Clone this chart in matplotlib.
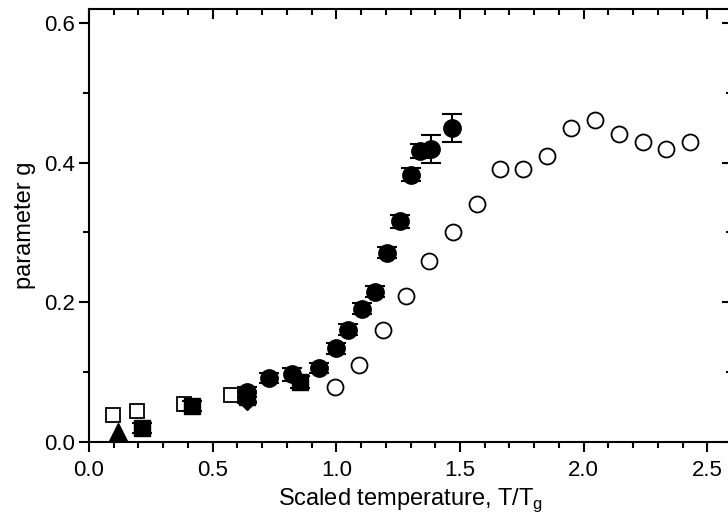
import matplotlib
matplotlib.use("Agg")
import matplotlib.pyplot as plt
from matplotlib.ticker import MultipleLocator

plt.rcParams['font.family'] = ['Liberation Sans', 'DejaVu Sans']

# open circles, no error bars
oc_x = [0.996, 1.093, 1.19, 1.28, 1.373, 1.471, 1.567, 1.661, 1.755, 1.853, 1.95, 2.045, 2.142, 2.239, 2.332, 2.43]
oc_y = [0.079, 0.110, 0.160, 0.209, 0.259, 0.301, 0.341, 0.391, 0.391, 0.410, 0.450, 0.461, 0.441, 0.430, 0.420, 0.430]

# filled circles with error bars
fc_x = [0.638, 0.729, 0.82, 0.931, 0.999, 1.047, 1.104, 1.158, 1.205, 1.256, 1.30, 1.34, 1.383, 1.468]
fc_y = [0.072, 0.092, 0.097, 0.106, 0.134, 0.161, 0.191, 0.215, 0.271, 0.316, 0.383, 0.416, 0.420, 0.449]
fc_e = [0.007, 0.007, 0.009, 0.007, 0.008, 0.008, 0.008, 0.008, 0.008, 0.009, 0.009, 0.01, 0.02, 0.02]

# filled squares with error bars
fs_x = [0.216, 0.418, 0.638, 0.854]
fs_y = [0.020, 0.051, 0.064, 0.086]
fs_e = [0.007, 0.007, 0.008, 0.008]

# open squares
os_x = [0.096, 0.193, 0.386, 0.574]
os_y = [0.039, 0.045, 0.055, 0.068]

# filled triangle, filled diamond
tri_x = [0.119]
tri_y = [0.014]
dia_x = [0.638]
dia_y = [0.058]

fig = plt.figure(figsize=(7.28, 5.17), dpi=100)
ax = fig.add_axes([89/728, 75/517, 643/728, 433/517])

ax.plot(oc_x, oc_y, 'o', ms=11.5, mfc='white', mec='black', mew=1.3, zorder=3)
ax.plot(os_x, os_y, 's', ms=10.5, mfc='white', mec='black', mew=1.3, zorder=3)
ax.plot(tri_x, tri_y, '^', ms=13, color='black', zorder=4)
ax.plot(dia_x, dia_y, 'D', ms=9, color='black', zorder=4)
ax.errorbar(fs_x, fs_y, yerr=fs_e, fmt='s', ms=11, color='black',
            ecolor='black', elinewidth=1.5, capsize=7.5, capthick=1.5, zorder=4)
ax.errorbar(fc_x, fc_y, yerr=fc_e, fmt='o', ms=12.5, color='black',
            ecolor='black', elinewidth=1.5, capsize=7.5, capthick=1.5, zorder=5)

ax.set_xlim(0, 2.6)
ax.set_ylim(0, 0.62)
ax.xaxis.set_major_locator(MultipleLocator(0.5))
ax.xaxis.set_minor_locator(MultipleLocator(0.1))
ax.yaxis.set_major_locator(MultipleLocator(0.2))
ax.yaxis.set_minor_locator(MultipleLocator(0.1))
ax.xaxis.set_major_formatter(plt.FormatStrFormatter('%.1f'))
ax.yaxis.set_major_formatter(plt.FormatStrFormatter('%.1f'))

for s in ax.spines.values():
    s.set_linewidth(1.5)

ax.tick_params(which='both', bottom=True, left=True, direction='out', width=1.5, labelsize=16)
ax.tick_params(which='both', top=True, right=True, labeltop=False, labelright=False)
ax.tick_params(which='major', length=7)
ax.tick_params(which='minor', length=4)
ax.tick_params(axis='x', which='major', pad=6)
ax.tick_params(axis='y', which='major', pad=3)
for t in ax.xaxis.get_major_ticks() + ax.xaxis.get_minor_ticks():
    t.tick2line.set_marker(3)
for t in ax.yaxis.get_major_ticks() + ax.yaxis.get_minor_ticks():
    t.tick2line.set_marker(0)

ax.set_xlabel('Scaled temperature, T/T$_\\mathregular{g}$', fontsize=17, labelpad=4)
ax.set_ylabel('parameter g', fontsize=17, labelpad=6)

fig.savefig('out.png', dpi=100)
